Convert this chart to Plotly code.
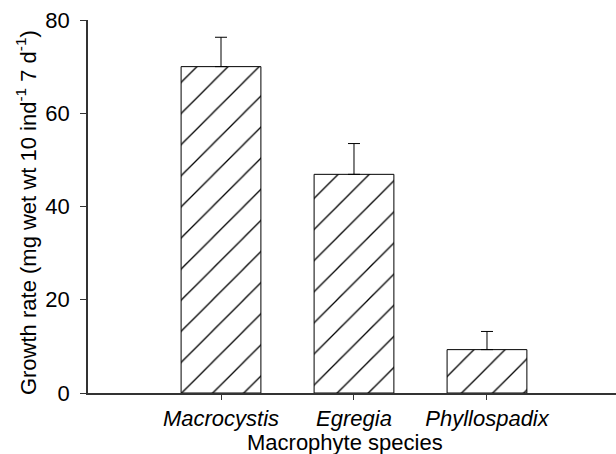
import plotly.graph_objects as go

species = ["Macrocystis", "Egregia", "Phyllospadix"]
growth = [70.0, 46.9, 9.3]
err_up = [6.3, 6.6, 3.9]
y_ticks = [0, 20, 40, 60, 80]

FONT = "Liberation Sans, Arial, Helvetica, sans-serif"

fig = go.Figure()
fig.add_trace(go.Bar(
    x=list(range(len(species))),
    y=growth,
    width=0.6,
    marker=dict(
        color="white",
        line=dict(color="black", width=1),
        pattern=dict(shape="/", fgcolor="#000000", fgopacity=1, bgcolor="white",
                     size=22, solidity=0.06),
    ),
    error_y=dict(type="data", array=err_up, arrayminus=[0] * len(err_up), symmetric=False,
                 color="black", thickness=1, width=6),
    showlegend=False,
))

fig.update_layout(
    width=616, height=454,
    margin=dict(l=88, r=0, t=20, b=61),
    paper_bgcolor="white", plot_bgcolor="white",
    font=dict(family=FONT, size=22, color="black"),
    xaxis=dict(
        range=[-1, 2.97],
        tickvals=list(range(len(species))),
        ticktext=["<i>%s</i>" % s for s in species],
        tickfont=dict(size=22),
        ticks="outside", ticklen=5, tickcolor="#333", tickwidth=1,
        showline=True, linecolor="#333", linewidth=1.5,
        showgrid=False, zeroline=False,
    ),
    yaxis=dict(
        range=[0, 80],
        tickvals=y_ticks,
        tickfont=dict(size=22),
        ticklabelstandoff=6,
        ticks="outside", ticklen=6, tickcolor="#333", tickwidth=1,
        showline=True, linecolor="#333", linewidth=1.5,
        showgrid=False, zeroline=False,
    ),
    annotations=[
        dict(text="Macrophyte species", xref="paper", yref="paper",
             x=0.487, y=-0.134, xanchor="center", yanchor="middle",
             showarrow=False, font=dict(size=22)),
        dict(text="Growth rate (mg wet wt 10 ind<sup>-1</sup> 7 d<sup>-1</sup>)",
             xref="paper", yref="paper", x=-0.117, y=0.483, textangle=-90,
             xanchor="center", yanchor="middle", showarrow=False, font=dict(size=22)),
    ],
)

fig.write_html("out.html")
